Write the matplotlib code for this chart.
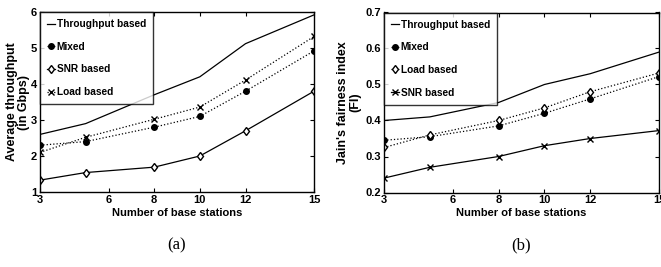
import matplotlib.pyplot as plt

plt.rcParams['font.family'] = ['Liberation Sans', 'DejaVu Sans']
plt.rcParams['font.weight'] = 'bold'

stations = [3, 5, 8, 10, 12, 15]
xticks = [3, 6, 8, 10, 12, 15]

# (a) average throughput
thr_throughput = [2.6, 2.9, 3.7, 4.2, 5.12, 5.92]
thr_mixed = [2.3, 2.4, 2.8, 3.1, 3.8, 4.92]
thr_snr = [1.33, 1.54, 1.69, 2.0, 2.7, 3.8]
thr_load = [2.1, 2.52, 3.02, 3.36, 4.11, 5.32]

# (b) fairness index
fi_throughput = [0.40, 0.41, 0.45, 0.50, 0.53, 0.59]
fi_mixed = [0.345, 0.355, 0.385, 0.42, 0.46, 0.522]
fi_load = [0.325, 0.36, 0.40, 0.435, 0.48, 0.532]
fi_snr = [0.24, 0.27, 0.30, 0.33, 0.35, 0.372]

fig = plt.figure(figsize=(6.61, 2.67), dpi=100)
ax1 = fig.add_axes([40 / 661, 1 - 192 / 267, 274 / 661, 180 / 267])
ax2 = fig.add_axes([384 / 661, 1 - 192.5 / 267, 275 / 661, 180 / 267])

k = dict(color='black', lw=0.9)
ax1.plot(stations, thr_throughput, '-', label='Throughput based', **k)
ax1.plot(stations, thr_mixed, ':', marker='o', ms=4, label='Mixed', **k)
ax1.plot(stations, thr_snr, '-', marker='d', ms=4.5, mfc='white', label='SNR based', **k)
ax1.plot(stations, thr_load, ':', marker='x', ms=4.5, label='Load based', **k)
ax1.set_ylim(1, 6)
ax1.set_yticks([1, 2, 3, 4, 5, 6])
ax1.set_ylabel('Average throughput\n(in Gbps)', fontsize=9, fontweight='bold', labelpad=1,
               linespacing=1.0)

ax2.plot(stations, fi_throughput, '-', label='Throughput based', **k)
ax2.plot(stations, fi_mixed, ':', marker='o', ms=4, label='Mixed', **k)
ax2.plot(stations, fi_load, ':', marker='d', ms=4.5, mfc='white', label='Load based', **k)
ax2.plot(stations, fi_snr, '-', marker='x', ms=4.5, label='SNR based', **k)
ax2.set_ylim(0.2, 0.7)
ax2.set_yticks([0.2, 0.3, 0.4, 0.5, 0.6, 0.7])
ax2.set_ylabel("Jain's fairness index\n(FI)", fontsize=9, fontweight='bold', labelpad=3,
               linespacing=1.0)

for ax, cap in [(ax1, '(a)'), (ax2, '(b)')]:
    ax.set_xlim(3, 15)
    ax.set_xticks(xticks)
    ax.tick_params(direction='in', top=True, right=True, labelsize=8, length=3, pad=2)
    for lab in ax.get_xticklabels() + ax.get_yticklabels():
        lab.set_fontweight('bold')
    for s in ax.spines.values():
        s.set_linewidth(1.0)
    ax.set_xlabel('Number of base stations', fontsize=8, fontweight='bold', labelpad=2)
    leg = ax.legend(loc='upper left', fontsize=7.3, handlelength=0.8, handletextpad=0.15,
                    labelspacing=1.25, borderaxespad=0, borderpad=0.7, fancybox=False,
                    frameon=True, edgecolor='black')
    leg.get_frame().set_linewidth(1.0)
    for t in leg.get_texts():
        t.set_fontweight('bold')
    ax.text(0.5, -0.295, cap, transform=ax.transAxes, ha='center', va='center',
            fontsize=12, fontweight='normal', family='Liberation Serif')

fig.savefig('out.png', dpi=100)
